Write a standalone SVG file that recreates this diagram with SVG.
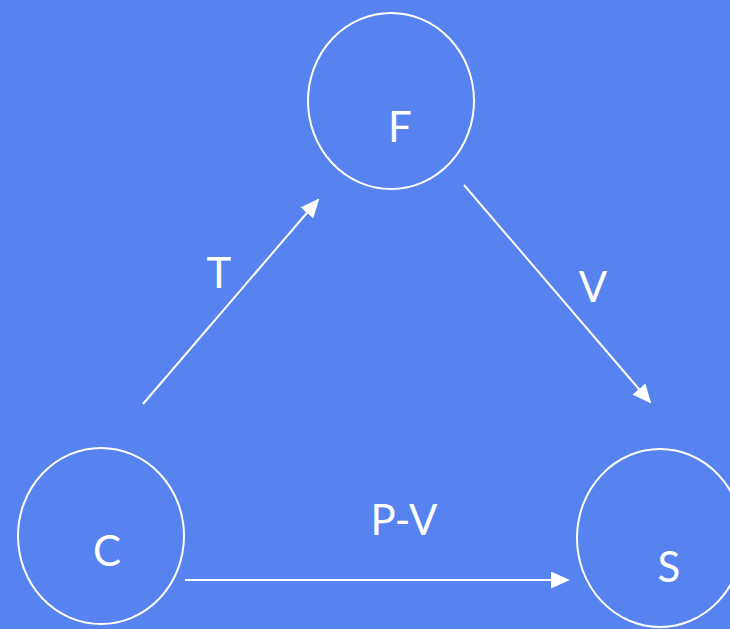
<svg xmlns="http://www.w3.org/2000/svg" width="730" height="629" viewBox="0 0 730 629">
  <style>
    .node { fill: none; stroke: #ffffff; stroke-width: 2; }
    .label { fill: #ffffff; font-family: "Lato", "Open Sans", "Liberation Sans", sans-serif; font-size: 42px; text-anchor: middle; }
    .edge { stroke: #ffffff; stroke-width: 2; fill: none; marker-end: url(#arrow); }
  </style>
  <defs>
    <marker id="arrow" viewBox="0 0 10 10" refX="9" refY="5" markerWidth="19" markerHeight="17" markerUnits="userSpaceOnUse" orient="auto" preserveAspectRatio="none">
      <path d="M0,0 L10,5 L0,10 Z" fill="#ffffff"/>
    </marker>
  </defs>
  <rect width="730" height="629" fill="#5683f0"/>

  <g id="node-F">
    <ellipse class="node" cx="391" cy="101" rx="83" ry="88"/>
    <text class="label" x="400" y="142">F</text>
  </g>
  <g id="node-C">
    <ellipse class="node" cx="101" cy="536" rx="83" ry="88"/>
    <text class="label" x="107" y="566">C</text>
  </g>
  <g id="node-S">
    <ellipse class="node" cx="660" cy="538" rx="83" ry="89"/>
    <text class="label" x="669" y="582">S</text>
  </g>

  <g id="connectors">
    <line class="edge" x1="143" y1="404" x2="318" y2="200"/>
    <line class="edge" x1="464" y1="185" x2="650" y2="402"/>
    <line class="edge" x1="185" y1="580" x2="568" y2="580"/>
    <text class="label" x="219" y="288">T</text>
    <text class="label" x="593" y="302">V</text>
    <text class="label" x="404" y="535">P-V</text>
  </g>
</svg>
